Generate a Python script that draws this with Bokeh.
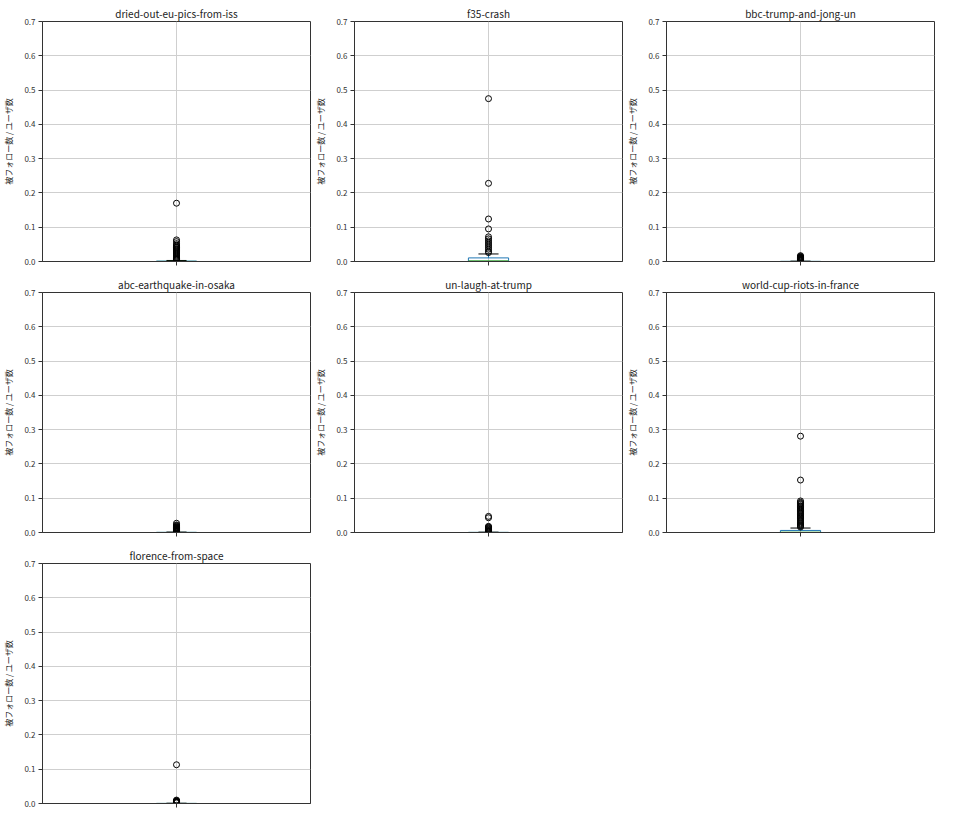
from bokeh.plotting import figure
from bokeh.layouts import gridplot
from bokeh.models import Range1d, FixedTicker, ColumnDataSource
from bokeh.embed import file_html
from bokeh.resources import INLINE

# ---- data ----
titles = [
    "dried-out-eu-pics-from-iss",
    "f35-crash",
    "bbc-trump-and-jong-un",
    "abc-earthquake-in-osaka",
    "un-laugh-at-trump",
    "world-cup-riots-in-france",
    "florence-from-space",
]
q1 = [0.0, 0.0, 0.0, 0.0, 0.0, 0.0, 0.0]
median = [0.0003, 0.002, 0.0001, 0.0001, 0.0001, 0.001, 0.0001]
q3 = [0.0012, 0.0105, 0.0004, 0.0005, 0.0004, 0.006, 0.0003]
whisker_lo = [0.0, 0.0, 0.0, 0.0, 0.0, 0.0, 0.0]
whisker_hi = [0.003, 0.022, 0.001, 0.0012, 0.001, 0.013, 0.0008]
outliers = [
    [0.17, 0.063, 0.058, 0.052, 0.048, 0.045, 0.042, 0.040, 0.037, 0.034,
     0.031, 0.028, 0.025, 0.022, 0.019, 0.016, 0.013, 0.010, 0.008, 0.006, 0.005],
    [0.475, 0.228, 0.124, 0.095, 0.072, 0.066, 0.060, 0.054, 0.048, 0.042,
     0.036, 0.030, 0.026],
    [0.017, 0.015, 0.013, 0.012, 0.011, 0.010, 0.009, 0.008, 0.007, 0.006,
     0.005, 0.004, 0.003, 0.002],
    [0.027, 0.022, 0.020, 0.018, 0.016, 0.015, 0.014, 0.013, 0.012, 0.011,
     0.010, 0.009, 0.008, 0.007, 0.006, 0.005, 0.004, 0.003, 0.002],
    [0.047, 0.043, 0.018, 0.016, 0.014, 0.012, 0.010, 0.008, 0.006, 0.005,
     0.004, 0.003, 0.002],
    [0.281, 0.153, 0.092, 0.088, 0.085, 0.082, 0.078, 0.075, 0.072, 0.068,
     0.065, 0.062, 0.058, 0.055, 0.052, 0.048, 0.045, 0.042, 0.038, 0.035,
     0.032, 0.028, 0.025, 0.022, 0.019, 0.016],
    [0.113, 0.010, 0.008, 0.007, 0.006, 0.005, 0.004, 0.003, 0.002],
]
y_ticks = [0.0, 0.1, 0.2, 0.3, 0.4, 0.5, 0.6, 0.7]
y_label = "被フォロー数 / ユーザ数"

FONT = "Noto Sans CJK JP"
TXT = "#222222"
BLUE = "#1f77b4"
GREEN = "#2ca02c"
POS = 1.0
BOX_W = 0.15


def make_panel(i):
    p = figure(width=312, height=271, output_backend="svg", toolbar_location=None,
               x_range=Range1d(0.5, 1.5), y_range=Range1d(0.0, 0.7),
               min_border_left=42, min_border_right=2, min_border_top=21,
               min_border_bottom=10)
    p.title.text = titles[i]
    p.title.align = "center"
    p.title.text_font = FONT
    p.title.text_font_size = "10px"
    p.title.text_font_style = "normal"
    p.title.text_color = TXT
    p.title.standoff = 2

    p.outline_line_color = "#333333"
    p.outline_line_width = 1
    p.outline_line_alpha = 1

    # axes
    p.yaxis.ticker = FixedTicker(ticks=y_ticks)
    p.yaxis.major_label_overrides = {t: f"{t:.1f}" for t in y_ticks}
    p.yaxis.axis_label = y_label
    p.yaxis.axis_label_text_font = FONT
    p.yaxis.axis_label_text_font_size = "8px"
    p.yaxis.axis_label_text_font_style = "normal"
    p.yaxis.axis_label_text_color = TXT
    p.yaxis.axis_label_standoff = 7
    p.xaxis.ticker = FixedTicker(ticks=[POS])
    p.xaxis.major_label_overrides = {POS: ""}
    p.xaxis.major_label_standoff = 0
    p.xaxis.major_label_text_font_size = "6px"
    for ax in (p.xaxis, p.yaxis):
        ax.major_label_text_font = FONT
        ax.major_label_text_color = "#333333"
        ax.major_tick_out = 4
        ax.major_tick_in = 0
        ax.minor_tick_line_color = None
        ax.axis_line_color = "#333333"
        ax.major_tick_line_color = "#333333"
    p.yaxis.major_label_text_font_size = "8px"
    p.yaxis.major_label_standoff = 3

    p.xgrid.ticker = FixedTicker(ticks=[POS])
    p.ygrid.ticker = FixedTicker(ticks=y_ticks)
    for g in (p.xgrid, p.ygrid):
        g.grid_line_color = "#cfcfcf"
        g.grid_line_width = 1

    # box
    p.quad(left=[POS - BOX_W / 2], right=[POS + BOX_W / 2],
           bottom=[q1[i]], top=[q3[i]], fill_color=None,
           line_color=BLUE, line_width=1)
    # whiskers
    p.segment(x0=[POS, POS], y0=[q3[i], q1[i]], x1=[POS, POS],
              y1=[whisker_hi[i], whisker_lo[i]], line_color=BLUE, line_width=1)
    # caps
    p.segment(x0=[POS - BOX_W / 4, POS - BOX_W / 4], y0=[whisker_hi[i], whisker_lo[i]],
              x1=[POS + BOX_W / 4, POS + BOX_W / 4], y1=[whisker_hi[i], whisker_lo[i]],
              line_color="black", line_width=1)
    # median
    p.segment(x0=[POS - BOX_W / 2], y0=[median[i]], x1=[POS + BOX_W / 2],
              y1=[median[i]], line_color=GREEN, line_width=1)
    # outliers
    src = ColumnDataSource(dict(x=[POS] * len(outliers[i]), y=outliers[i]))
    p.scatter(x="x", y="y", source=src, size=6, marker="circle",
              fill_color=None, line_color="black", line_width=1)
    return p


panels = [make_panel(i) for i in range(len(titles))]
grid = gridplot([[panels[0], panels[1], panels[2]],
                 [panels[3], panels[4], panels[5]],
                 [panels[6], None, None]], toolbar_location=None)

open("out.html", "w").write(file_html(grid, INLINE))
